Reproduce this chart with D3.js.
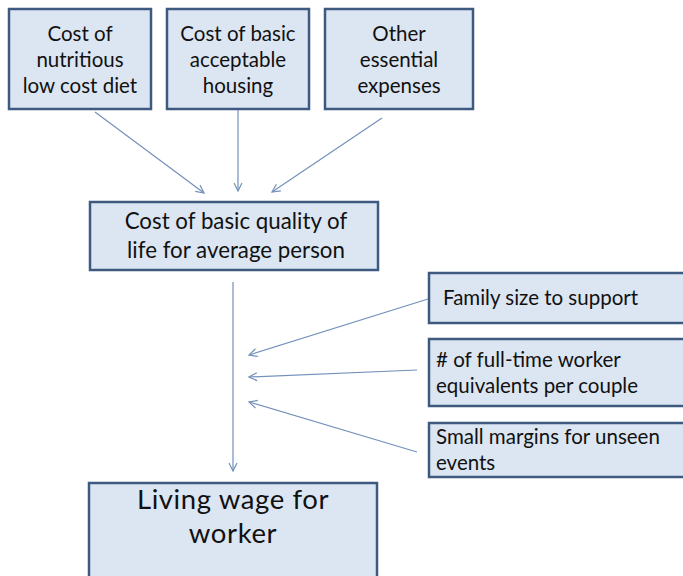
<!DOCTYPE html>
<html>
<head>
<meta charset="utf-8">
<script src="https://cdn.jsdelivr.net/npm/d3@7"></script>
<style>
  body { margin: 0; background: #fff; }
  svg text { font-family: "Lato", "Open Sans", sans-serif; fill: #111; }
</style>
</head>
<body>
<svg id="chart" width="683" height="576"></svg>
<script>
// box labels (one entry per line)
var topLabels = [
  ["Cost of", "nutritious", "low cost diet"],
  ["Cost of basic", "acceptable", "housing"],
  ["Other", "essential", "expenses"]
];
var middleLabel = ["Cost of basic quality of", "life for average person"];
var sideLabels = [
  ["Family size to support"],
  ["# of full-time worker", "equivalents per couple"],
  ["Small margins for unseen", "events"]
];
var bottomLabel = ["Living wage for", "worker"];

// layout of the drawing
var topBoxes = [[9, 151], [167, 309], [325, 473]];
var sideBoxes = [[273, 323], [339, 406], [423, 477]];

var svg = d3.select("#chart");
var fill = "#dce6f2", edge = "#3f5a80", arrow = "#7391bb";

svg.append("defs").append("marker")
    .attr("id", "head")
    .attr("viewBox", "0 0 10 10")
    .attr("refX", 9).attr("refY", 5)
    .attr("markerWidth", 10).attr("markerHeight", 10)
    .attr("markerUnits", "userSpaceOnUse")
    .attr("orient", "auto")
  .append("path")
    .attr("d", "M1,1 L9,5 L1,9")
    .attr("fill", "none")
    .attr("stroke", arrow)
    .attr("stroke-width", 1.2);

var box = function(x, y, w, h) {
  svg.append("rect")
      .attr("x", x).attr("y", y)
      .attr("width", w).attr("height", h)
      .attr("fill", fill)
      .attr("stroke", edge)
      .attr("stroke-width", 2.5);
};

var lines = function(list, x, cy, size, gap, anchor, spacing) {
  var y0 = cy - (list.length - 1) * gap / 2;
  list.forEach(function(t, i) {
    svg.append("text")
        .attr("x", x)
        .attr("y", y0 + i * gap)
        .attr("dy", ".35em")
        .attr("text-anchor", anchor)
        .style("font-size", size + "px")
        .style("letter-spacing", (spacing || 0) + "px")
        .text(t);
  });
};

// top three boxes
topBoxes.forEach(function(b, i) {
  box(b[0], 9, b[1] - b[0], 100);
  lines(topLabels[i], (b[0] + b[1]) / 2, 60, 20.5, 26, "middle");
});

// middle box
box(90, 202, 288, 68);
lines(middleLabel, 236, 236, 22.3, 29, "middle");

// side boxes
sideBoxes.forEach(function(b, i) {
  box(429, b[0], 270, b[1] - b[0]);
  lines(sideLabels[i], i == 0 ? 443 : 436, (b[0] + b[1]) / 2, 20.5, 26, "start");
});

// bottom box
box(89, 483, 288, 110);
lines(bottomLabel, 233, 516, 27.5, 34, "middle", 0.6);

// arrows
var arrows = [
  [[95, 112], [204, 193]],
  [[238, 110], [238, 191]],
  [[382, 118], [272, 192]],
  [[233, 282], [233, 471]],
  [[428, 299], [249, 355]],
  [[417, 370], [249, 377]],
  [[417, 452], [249, 402]]
];
var line = d3.line();
svg.selectAll("path.arrow")
    .data(arrows)
  .enter().append("path")
    .attr("class", "arrow")
    .attr("d", line)
    .attr("fill", "none")
    .attr("stroke", arrow)
    .attr("stroke-width", 1.2)
    .attr("marker-end", "url(#head)");
</script>
</body>
</html>
